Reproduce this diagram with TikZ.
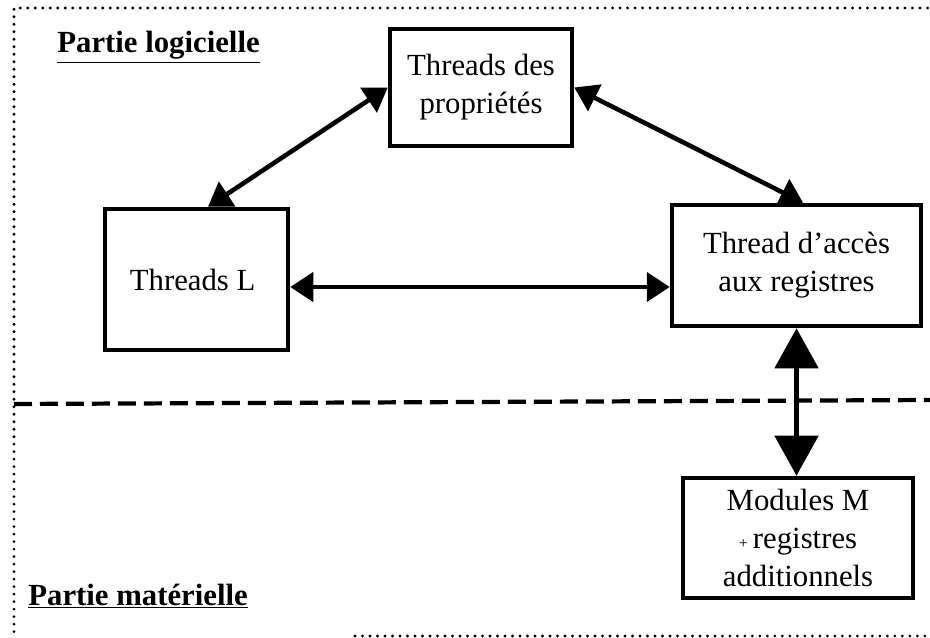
\documentclass[tikz,border=0pt]{standalone}
\usepackage{fontspec}
\setmainfont{Liberation Serif}
\usetikzlibrary{positioning, arrows.meta}
\tikzstyle{thread} = [
    rectangle, draw, line width=2.6pt, fill=white,
    align=center, inner sep=2pt % boxes with thick border
]
\tikzstyle{lien} = [
    line width=2.6pt,
    {Triangle[length=0.46cm, width=0.58cm]}-{Triangle[length=0.46cm, width=0.58cm]}
]
\tikzstyle{lienbus} = [
    line width=2.8pt,
    {Triangle[length=0.8cm, width=0.86cm]}-{Triangle[length=0.8cm, width=0.86cm]}
]
\tikzstyle{partie} = [font=\fontsize{17.5}{21.6}\selectfont\bfseries, anchor=base west, inner sep=0pt]
\tikzstyle{cadre} = [line width=1.8pt, dash pattern=on 0pt off 0.15cm, line cap=round]
\tikzstyle{separation} = [line width=2.4pt, dash pattern=on 0.36cm off 0.16cm]

\begin{document}
\begin{tikzpicture}[x=0.02cm, y=-0.02cm, font=\fontsize{17.5}{21.6}\selectfont]
        \useasboundingbox (0,0) rectangle (930,638);
        % Dotted frame and separation line
        \draw[cadre] (935,8) -- (14,8) -- (14,636);
        \draw[cadre] (355,636) -- (935,636);
        \draw[separation] (14,404) -- (935,400);

        % Titles
        \node[partie] (logiciel) at (57,53) {\underline{Partie logicielle}};
        \node[partie] (materiel) at (28,605) {\underline{Partie matérielle}};

        % Threads
        \node[thread, minimum width=3.64cm, minimum height=2.34cm] (proprietes) at (481,87.5) {
            Threads des\\propriétés
        };
        \node[thread, minimum width=3.66cm, minimum height=2.82cm] (threadsL) at (196.5,279.5) {
            Threads L
        };
        \node[thread, minimum width=4.98cm, minimum height=2.42cm] (acces) at (796.5,265.5) {
            Thread d'accès\\aux registres
        };
        \node[thread, minimum width=4.6cm, minimum height=2.4cm] (modules) [below=2.95cm of acces, xshift=0.03cm] {
            Modules M\\{\small +}\,registres\\additionnels
        };

        % Links between threads
        \draw[lien] (proprietes.west) -- (threadsL.81);
        \draw[lien] (proprietes.east) -- (acces.84);
        \draw[lien] ([yshift=-0.15cm]threadsL.east) -- ([yshift=-0.15cm]threadsL.east -| acces.west);

        % Link to the hardware part
        \draw[lienbus] (acces.south) -- (acces.south |- modules.north);

    \end{tikzpicture}
\end{document}
